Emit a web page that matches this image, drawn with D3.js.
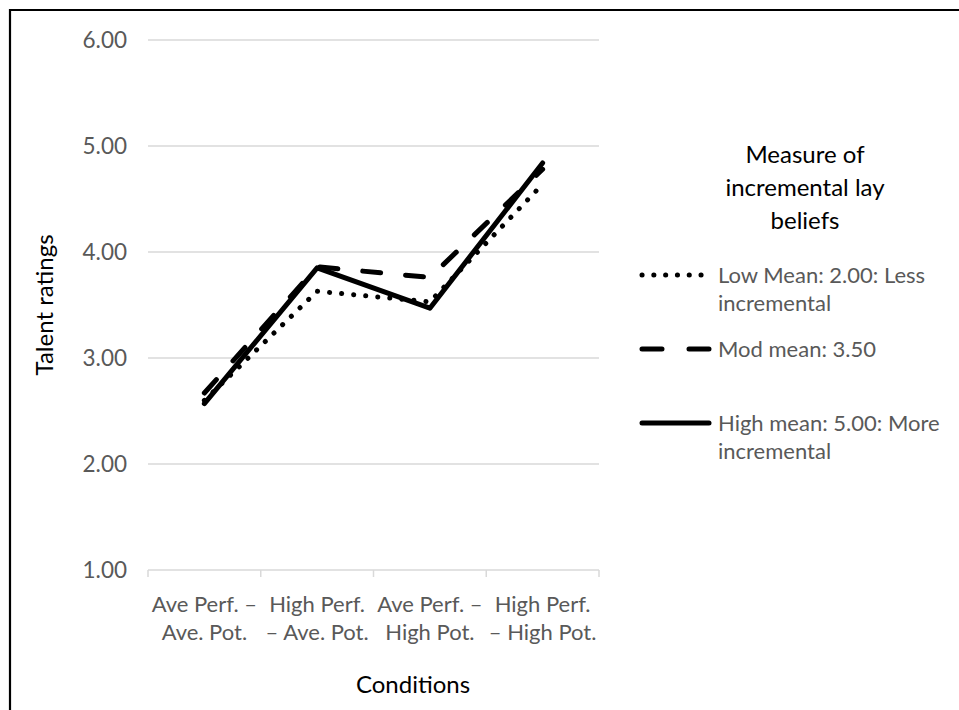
<!DOCTYPE html>
<html><head><meta charset="utf-8">
<script src="https://cdn.jsdelivr.net/npm/d3@7"></script>
<style>
html,body{margin:0;padding:0;background:#fff;}
svg{display:block;}
text{font-family:Lato,"Open Sans",sans-serif;}
</style></head>
<body>
<svg id="c" width="959" height="710"></svg>
<script>
const categories = [["Ave Perf. \u2013","Ave. Pot."],["High Perf.","\u2013 Ave. Pot."],["Ave Perf. \u2013","High Pot."],["High Perf.","\u2013 High Pot."]];
const lowMean  = [2.60, 3.63, 3.53, 4.64];
const modMean  = [2.67, 3.86, 3.76, 4.78];
const highMean = [2.57, 3.85, 3.47, 4.84];
const yTicks = [1,2,3,4,5,6];
const seriesNames = [["Low Mean: 2.00: Less","incremental"],["Mod mean: 3.50"],["High mean: 5.00: More","incremental"]];
const legendTitle = ["Measure of","incremental lay","beliefs"];

(function(){
const series = [
  {name: seriesNames[0], values: lowMean, dash: "0.1 12", legDash: "0.1 11.7", dot: true},
  {name: seriesNames[1], values: modMean, dash: "18 25", legDash: "20 27", dot: false},
  {name: seriesNames[2], values: highMean, dash: null, legDash: null, dot: false}
];

const svg = d3.select("#c");
svg.append("path").attr("d","M10,710 V10 H959").attr("fill","none").attr("stroke","#000").attr("stroke-width",2.2);

const pl=148, pr=599, pt=40, pb=570;
const x = d3.scaleBand().domain(d3.range(categories.length)).range([pl,pr]);
const y = d3.scaleLinear().domain([1,6]).range([pb,pt]);

svg.append("g").selectAll("line").data(yTicks.filter(d=>d>1)).join("line")
  .attr("x1",pl).attr("x2",pr).attr("y1",d=>y(d)).attr("y2",d=>y(d))
  .attr("stroke","#d9d9d9").attr("stroke-width",1.5);

svg.append("g").selectAll("text").data(yTicks).join("text")
  .attr("x",127).attr("y",d=>y(d)).attr("dy","0.35em").attr("text-anchor","end")
  .attr("font-size",22.5).attr("fill","#595959").text(d=>d.toFixed(2));

const xa = svg.append("g");
xa.append("line").attr("x1",pl).attr("x2",pr).attr("y1",pb).attr("y2",pb).attr("stroke","#d9d9d9").attr("stroke-width",1.5);
const tickPos = d3.range(categories.length+1).map(i => i<categories.length ? x(i) : x(categories.length-1)+x.bandwidth());
xa.selectAll("line.t").data(tickPos).join("line").attr("class","t")
  .attr("x1",d=>d).attr("x2",d=>d).attr("y1",pb).attr("y2",pb+7)
  .attr("stroke","#d9d9d9").attr("stroke-width",1.5);
const cl = xa.selectAll("text").data(categories).join("text")
  .attr("x",(d,i)=>x(i)+x.bandwidth()/2).attr("y",612)
  .attr("text-anchor","middle").attr("font-size",22).attr("fill","#595959");
cl.selectAll("tspan").data(d=>d).join("tspan")
  .attr("x",function(){return this.parentNode.getAttribute("x");})
  .attr("dy",(d,i)=>i===0?0:28).text(d=>d);

svg.append("text").attr("x",413).attr("y",693).attr("text-anchor","middle")
  .attr("font-size",24).attr("fill","#000").text("Conditions");
svg.append("text").attr("transform","translate(53,305) rotate(-90)").attr("text-anchor","middle")
  .attr("font-size",24).attr("fill","#000").text("Talent ratings");

const line = d3.line().x((d,i)=>x(i)+x.bandwidth()/2).y(d=>y(d));
svg.append("g").selectAll("path").data(series).join("path")
  .attr("d",d=>line(d.values)).attr("fill","none").attr("stroke","#000")
  .attr("stroke-width",5)
  .attr("stroke-dasharray",d=>d.dash).attr("stroke-linecap","round").attr("stroke-linejoin","round");

const lg = svg.append("g");
lg.selectAll("text.title").data(legendTitle).join("text").attr("class","title")
  .attr("x",805).attr("y",(d,i)=>163+i*33).attr("text-anchor","middle")
  .attr("font-size",24).attr("fill","#000").text(d=>d);
const ly = [275,349,423];
series.forEach((s,i)=>{
  lg.append("line").attr("x1",642).attr("x2",709).attr("y1",ly[i]).attr("y2",ly[i])
    .attr("stroke","#000").attr("stroke-width",5)
    .attr("stroke-dasharray",s.legDash)
    .attr("stroke-linecap","round");
  const t = lg.append("text").attr("x",718).attr("y",ly[i])
    .attr("font-size",22).attr("fill","#595959");
  t.selectAll("tspan").data(s.name).join("tspan").attr("x",718).attr("dy",(d,j)=>j===0?"0.35em":28).text(d=>d);
});
})();
</script>
</body></html>
